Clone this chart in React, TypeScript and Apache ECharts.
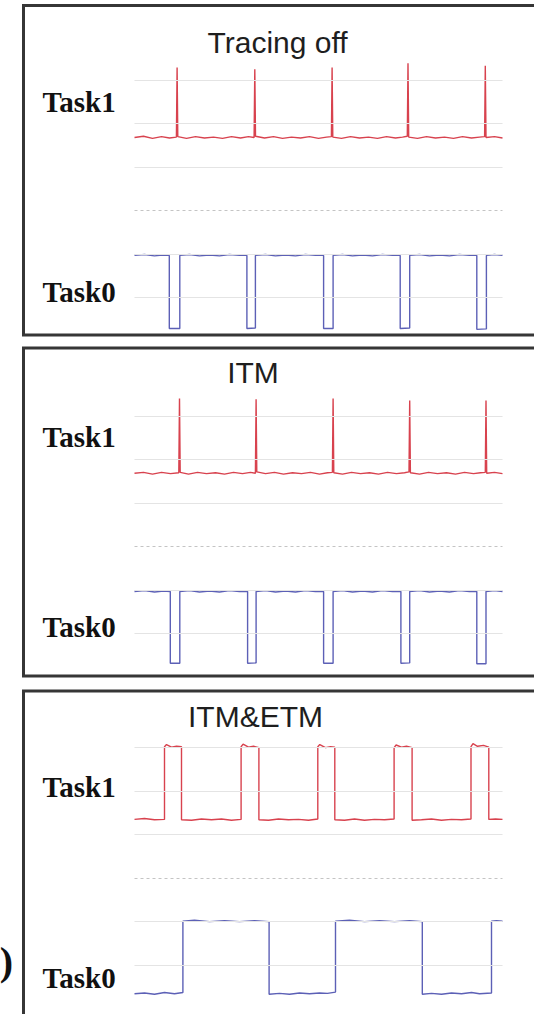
import React, { useEffect, useRef } from "react";
import * as echarts from "echarts";

// Panel titles and trace labels
const panelTitles = ["Tracing off", "ITM", "ITM&ETM"];
const traceLabels = ["Task1", "Task0"];

// Horizontal reference grid levels (divisions); level 3 is the dotted centre line
const gridLevels = [1, 2, 4, 5, 6];
const centreLevel = [3];

// Panel (a): Tracing off — [time, level]
const offTask1: number[][] = [
  [0, 4.68], [9, 4.71], [18, 4.66], [27, 4.7], [35, 4.67], [41.9, 4.69], [42.6, 6.29], [43.3, 4.7],
  [52, 4.66], [61, 4.7], [70, 4.67], [79, 4.69], [88, 4.66], [97, 4.7], [106, 4.67], [114, 4.7],
  [119.6, 4.68], [120.3, 6.25], [121.0, 4.71], [130, 4.67], [139, 4.7], [148, 4.66], [157, 4.69],
  [166, 4.67], [175, 4.7], [184, 4.66], [192, 4.69], [196.9, 4.7], [197.6, 6.29], [198.3, 4.69],
  [207, 4.66], [216, 4.7], [225, 4.67], [234, 4.69], [243, 4.66], [252, 4.7], [261, 4.67],
  [268, 4.69], [272.8, 4.71], [273.5, 6.39], [274.2, 4.69], [283, 4.66], [292, 4.7], [301, 4.67],
  [310, 4.69], [319, 4.66], [328, 4.7], [337, 4.67], [345, 4.69], [350.1, 4.7], [350.8, 6.33],
  [351.5, 4.68], [360, 4.7], [368, 4.67],
];
const offTask0: number[][] = [
  [0, 1.97], [10, 1.99], [20, 1.96], [28, 1.98], [34.8, 1.97], [34.8, 0.29], [45.3, 0.29], [45.3, 1.97],
  [55, 1.99], [65, 1.96], [75, 1.98], [85, 1.96], [95, 1.99], [105, 1.97], [112.4, 1.97], [112.4, 0.29],
  [120.9, 0.3], [120.9, 1.97], [131, 1.99], [141, 1.96], [151, 1.98], [161, 1.96], [171, 1.99],
  [181, 1.97], [189.1, 1.97], [189.1, 0.29], [198.6, 0.29], [198.6, 1.97], [208, 1.99], [218, 1.96],
  [228, 1.98], [238, 1.96], [248, 1.99], [258, 1.97], [265.7, 1.97], [265.7, 0.29], [275.2, 0.3],
  [275.2, 1.97], [285, 1.99], [295, 1.96], [305, 1.98], [315, 1.96], [325, 1.99], [335, 1.97],
  [342.3, 1.97], [342.3, 0.27], [351.9, 0.28], [351.9, 1.97], [360, 1.99], [368, 1.97],
];

// Panel (b): ITM
const itmTask1: number[][] = [
  [0, 4.68], [9, 4.7], [18, 4.66], [27, 4.7], [36, 4.67], [44.3, 4.69], [45.0, 6.4], [45.7, 4.7],
  [54, 4.66], [63, 4.7], [72, 4.67], [81, 4.69], [90, 4.66], [99, 4.7], [108, 4.67], [116, 4.7],
  [120.9, 4.68], [121.6, 6.38], [122.3, 4.71], [131, 4.67], [140, 4.7], [149, 4.66], [158, 4.69],
  [167, 4.67], [176, 4.7], [185, 4.66], [193, 4.69], [197.9, 4.7], [198.6, 6.4], [199.3, 4.69],
  [208, 4.66], [217, 4.7], [226, 4.67], [235, 4.69], [244, 4.66], [253, 4.7], [262, 4.67],
  [270, 4.69], [274.5, 4.71], [275.2, 6.35], [275.9, 4.69], [285, 4.66], [294, 4.7], [303, 4.67],
  [312, 4.69], [321, 4.66], [330, 4.7], [339, 4.67], [346, 4.69], [350.8, 4.7], [351.5, 6.35],
  [352.2, 4.68], [360, 4.7], [368, 4.67],
];
const itmTask0: number[][] = [
  [0, 1.96], [10, 1.98], [20, 1.95], [29, 1.97], [35.8, 1.96], [35.8, 0.31], [45.3, 0.31], [45.3, 1.96],
  [55, 1.98], [65, 1.95], [75, 1.97], [85, 1.95], [95, 1.98], [105, 1.96], [113.1, 1.96], [113.1, 0.31],
  [121.6, 0.32], [121.6, 1.96], [131, 1.98], [141, 1.95], [151, 1.97], [161, 1.95], [171, 1.98],
  [181, 1.96], [189.1, 1.96], [189.1, 0.31], [198.6, 0.31], [198.6, 1.96], [208, 1.98], [218, 1.95],
  [228, 1.97], [238, 1.95], [248, 1.98], [258, 1.96], [266.4, 1.96], [266.4, 0.31], [275.2, 0.32],
  [275.2, 1.96], [285, 1.98], [295, 1.95], [305, 1.97], [315, 1.95], [325, 1.98], [335, 1.96],
  [342.3, 1.96], [342.3, 0.3], [351.5, 0.3], [351.5, 1.96], [360, 1.98], [368, 1.96],
];

// Panel (c): ITM&ETM
const etmTask1: number[][] = [
  [0, 4.35], [10, 4.37], [20, 4.34], [30, 4.35], [30, 6.02], [32, 6.07], [37, 6.01], [42, 6.03],
  [47, 6.02], [47, 4.34], [57, 4.33], [67, 4.36], [77, 4.34], [87, 4.36], [97, 4.33], [106.6, 4.35],
  [106.6, 6.02], [108.6, 6.08], [114, 6.01], [119, 6.03], [124.4, 6.0], [124.4, 4.34], [134, 4.33],
  [144, 4.36], [154, 4.34], [164, 4.35], [174, 4.33], [183.3, 4.36], [183.3, 6.02], [185.3, 6.07],
  [191, 6.0], [196, 6.02], [200.3, 6.01], [200.3, 4.34], [210, 4.33], [220, 4.36], [230, 4.33],
  [240, 4.35], [250, 4.34], [259.6, 4.36], [259.6, 6.0], [261.6, 6.06], [267, 6.01], [272, 6.03],
  [277.6, 6.0], [277.6, 4.33], [287, 4.34], [297, 4.36], [307, 4.33], [317, 4.35], [327, 4.34],
  [336.5, 4.36], [336.5, 6.02], [338.5, 6.09], [343, 6.03], [349, 6.05], [354.3, 6.01], [354.3, 4.35],
  [361, 4.36], [368, 4.35],
];
const etmTask0: number[][] = [
  [0, 0.34], [10, 0.36], [20, 0.33], [30, 0.37], [40, 0.34], [48.4, 0.37], [48.4, 2.01], [60, 2.03],
  [75, 2.0], [90, 2.02], [105, 2.0], [120, 2.02], [134.6, 2.0], [134.6, 0.33], [145, 0.35],
  [155, 0.33], [165, 0.36], [175, 0.34], [185, 0.36], [193, 0.35], [201, 0.38], [201, 2.01],
  [215, 2.03], [230, 2.0], [245, 2.02], [260, 2.0], [275, 2.02], [287.8, 2.0], [287.8, 0.33],
  [297, 0.35], [307, 0.33], [317, 0.36], [327, 0.34], [337, 0.37], [345, 0.34], [357, 0.36],
  [357, 2.01], [362, 2.02], [368, 2.01],
];

const panelData = [
  [offTask1, offTask0],
  [itmTask1, itmTask0],
  [etmTask1, etmTask0],
];

const RED = "#d8424e";
const BLUE = "#5c60b6";

export default function App() {
  const ref = useRef<HTMLDivElement>(null);

  useEffect(() => {
    document.body.style.margin = "0";
    if (!ref.current) return;
    const chart = echarts.init(ref.current, undefined, { renderer: "svg" });

    const gridTops = [36.6, 372.3, 704.1];
    const gridH = 304.5;
    const grids = gridTops.map((t) => ({ left: 134.5, width: 368, top: t, height: gridH }));
    const xAxes = gridTops.map((_, i) => ({
      type: "value", gridIndex: i, min: 0, max: 368, show: false,
    }));
    const yAxes = gridTops.map((_, i) => ({
      type: "value", gridIndex: i, min: 0, max: 7, show: false,
    }));

    const series: any[] = [];
    panelData.forEach((pair, i) => {
      series.push({
        type: "line",
        xAxisIndex: i,
        yAxisIndex: i,
        data: [],
        z: 1,
        silent: true,
        markLine: {
          silent: true,
          symbol: "none",
          label: { show: false },
          animation: false,
          data: [
            ...gridLevels.map((v) => ({
              yAxis: v,
              lineStyle: { color: "#e4e4e4", width: 1.2, type: "solid" },
            })),
            ...centreLevel.map((v) => ({
              yAxis: v,
              lineStyle: { color: "#c4c4c4", width: 1, type: [3, 3] },
            })),
          ],
        },
      });
      series.push({
        name: traceLabels[0],
        type: "line",
        xAxisIndex: i,
        yAxisIndex: i,
        data: pair[0],
        showSymbol: false,
        z: 3,
        lineStyle: { color: RED, width: 1.4 },
      });
      series.push({
        name: traceLabels[1],
        type: "line",
        xAxisIndex: i,
        yAxisIndex: i,
        data: pair[1],
        showSymbol: false,
        z: 3,
        lineStyle: { color: BLUE, width: 1.4 },
      });
    });

    const borders = [
      { y: 5.5, h: 329.5 },
      { y: 348, h: 328 },
      { y: 691, h: 400 },
    ];
    const titlePos = [
      { x: 277.6, y: 42 },
      { x: 253, y: 372.8 },
      { x: 255.5, y: 716 },
    ];
    const labelY = [
      [102, 292],
      [436.7, 626.7],
      [787, 978],
    ];

    const graphic: any[] = [];
    borders.forEach((b) => {
      graphic.push({
        type: "rect",
        shape: { x: 23.5, y: b.y, width: 600, height: b.h },
        style: { fill: "none", stroke: "#363636", lineWidth: 3 },
        z: 10,
        silent: true,
      });
    });
    panelTitles.forEach((t, i) => {
      graphic.push({
        type: "text",
        x: titlePos[i].x,
        y: titlePos[i].y,
        z: 10,
        style: {
          text: t,
          font: "30px 'Liberation Sans', Arial, sans-serif",
          fill: "#1e1e1e",
          textAlign: "center",
          textVerticalAlign: "middle",
        },
      });
    });
    labelY.forEach((ys) => {
      ys.forEach((y, j) => {
        graphic.push({
          type: "text",
          x: 42.6,
          y,
          z: 10,
          style: {
            text: traceLabels[j],
            font: "bold 29px 'Liberation Serif', 'Times New Roman', serif",
            fill: "#111111",
            textAlign: "left",
            textVerticalAlign: "middle",
          },
        });
      });
    });
    graphic.push({
      type: "text",
      x: 13,
      y: 961,
      z: 10,
      style: {
        text: ")",
        font: "bold 40px 'Liberation Serif', 'Times New Roman', serif",
        fill: "#111111",
        textAlign: "right",
        textVerticalAlign: "middle",
      },
    });

    chart.setOption({
      animation: false,
      backgroundColor: "#ffffff",
      grid: grids,
      xAxis: xAxes,
      yAxis: yAxes,
      series,
      graphic: { elements: graphic },
    });

    return () => chart.dispose();
  }, []);

  return (
    <div
      ref={ref}
      style={{ position: "absolute", left: 0, top: 0, width: 534, height: 1014 }}
    />
  );
}
